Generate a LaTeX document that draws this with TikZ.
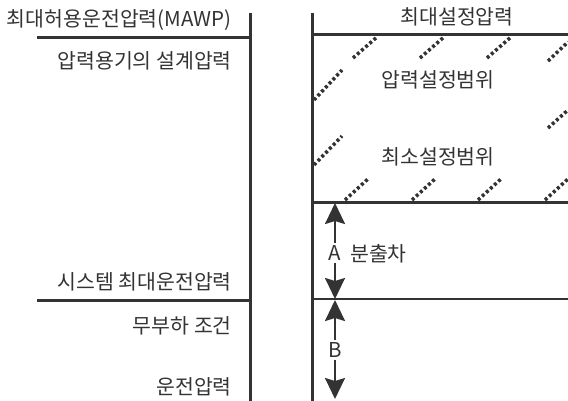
\documentclass[tikz,border=0pt]{standalone}
\usepackage{fontspec}
\setmainfont{Noto Sans CJK KR}
\usetikzlibrary{arrows.meta}
\definecolor{ink}{HTML}{333333}
\begin{document}
\begin{tikzpicture}[x=1pt,y=-1pt,
  mainline/.style={line width=3pt, draw=ink},
  thinline/.style={line width=2pt, draw=ink},
  hatch/.style={line width=3.5pt, draw=ink, dash pattern=on 3pt off 2.5pt},
  lbl/.style={font=\fontsize{20.5}{22}\selectfont, text=ink, inner sep=0pt},
  dimarrow/.style={line width=2.2pt, draw=ink, -{Stealth[length=21pt,width=20pt,inset=3pt]}}
]
\useasboundingbox (0,0) rectangle (568,401);
% coordinates
\coordinate (LT) at (250,13);
\coordinate (LB) at (250,401);
\coordinate (RT) at (312,13);
\coordinate (RB) at (312,401);
\coordinate (L1a) at (37,38);  \coordinate (L1b) at (250,38);
\coordinate (L2a) at (37,300); \coordinate (L2b) at (250,300);
\coordinate (R1a) at (312,35);  \coordinate (R1b) at (568,35);
\coordinate (R2a) at (312,203); \coordinate (R2b) at (568,203);
\coordinate (R3a) at (312,299); \coordinate (R3b) at (568,299);
% main lines
\draw[mainline] (LT) -- (LB);
\draw[mainline] (RT) -- (RB);
\draw[mainline] (L1a) -- (L1b);
\draw[mainline] (L2a) -- (L2b);
\draw[mainline] (R1a) -- (R1b);
\draw[mainline] (R2a) -- (R2b);
\draw[thinline] (R3a) -- (R3b);
% hatches
\foreach \x in {353,420,487} \draw[hatch] (\x,58) -- ++(24,-21);
\draw[hatch] (548,61) -- (568,42);
\draw[hatch] (314,100) -- (342,70);
\draw[hatch] (314,165) -- (342,136);
\draw[hatch] (548,128) -- (568,110);
\foreach \x in {345,412,478,545} \draw[hatch] (\x,200) -- ++(24,-22);
% left labels
\node[lbl, anchor=east] (mawp) at (232,20) {최대허용운전압력(MAWP)};
\node[lbl, anchor=east] (design) at (232,61) {압력용기의 설계압력};
\node[lbl, anchor=east] (sysmax) at (232,282) {시스템 최대운전압력};
\node[lbl, anchor=east] (noload) at (232,326) {무부하 조건};
\node[lbl, anchor=east] (oper) at (232,387) {운전압력};
% right labels
\node[lbl] (maxset) at (457,17) {최대설정압력};
\node[lbl] (range) at (438,80) {압력설정범위};
\node[lbl] (minrange) at (438,157) {최소설정범위};
% dimension arrows
\node[lbl, inner sep=2pt] (A) at (335,253) {A};
\node[lbl, anchor=west] (blow) at (350,254) {분출차};
\node[lbl, inner sep=2pt] (B) at (335,350) {B};
\coordinate (Atop) at (335,203);
\coordinate (Abot) at (335,299);
\coordinate (Btop) at (335,300);
\coordinate (Bbot) at (335,399);
\draw[dimarrow] (A.north) -- (Atop);
\draw[dimarrow] (A.south) -- (Abot);
\draw[dimarrow] (B.north) -- (Btop);
\draw[dimarrow] (B.south) -- (Bbot);
\end{tikzpicture}
\end{document}
